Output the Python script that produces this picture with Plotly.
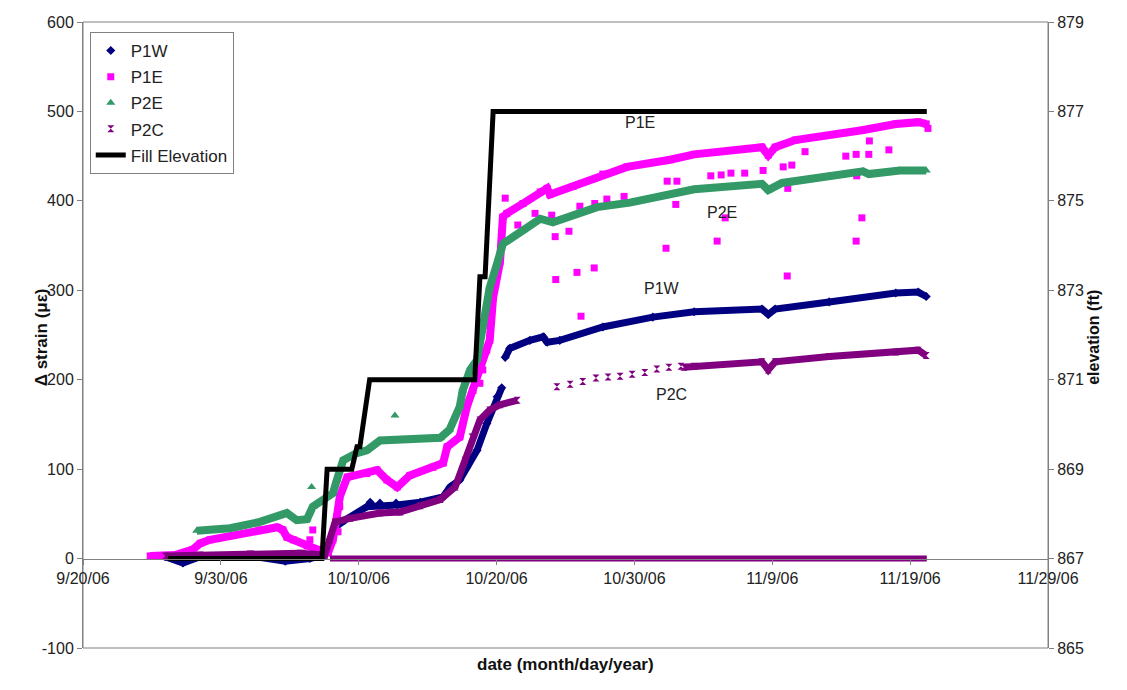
import plotly.graph_objects as go

# ---------------- data ----------------
x_tick_dates = ["2006-09-20", "2006-09-30", "2006-10-10", "2006-10-20",
                "2006-10-30", "2006-11-09", "2006-11-19", "2006-11-29"]
x_tick_labels = ["9/20/06", "9/30/06", "10/10/06", "10/20/06",
                 "10/30/06", "11/9/06", "11/19/06", "11/29/06"]
strain_ticks = [-100, 0, 100, 200, 300, 400, 500, 600]
strain_tick_labels = ["-100", "0", "100", "200", "300", "400", "500", "600"]
elev_ticks = [865, 867, 869, 871, 873, 875, 877, 879]

# P1W gauge
p1w_dates = ["2006-09-25 23:00", "2006-09-27 06:00", "2006-09-28 12:00", "2006-10-02 03:00",
             "2006-10-04 16:00", "2006-10-06 11:00", "2006-10-07 13:00", "2006-10-07 22:00",
             "2006-10-08 07:00", "2006-10-09 00:00", "2006-10-10 14:00", "2006-10-12 19:00",
             "2006-10-14 11:00", "2006-10-16 03:00", "2006-10-16 15:00", "2006-10-17 08:00",
             "2006-10-17 20:00", "2006-10-18 14:00", "2006-10-19 07:00", "2006-10-20 01:00",
             "2006-10-20 09:00", None,
             "2006-10-20 15:00", "2006-10-20 23:00", "2006-10-22 10:00", "2006-10-23 09:00",
             "2006-10-23 16:00", "2006-10-24 14:00", "2006-10-27 17:00", "2006-10-31 08:00",
             "2006-11-03 08:00", "2006-11-08 06:00", "2006-11-08 17:00", "2006-11-09 05:00",
             "2006-11-13 03:00", "2006-11-17 23:00", "2006-11-19 14:00", "2006-11-20 04:00"]
p1w_vals = [2, -5, 2, 3,
            -3, 0, 4, 21,
            35, 43, 58, 60,
            63, 69, 80, 88,
            102, 121, 151, 181,
            191, None,
            225, 235, 244, 248,
            242, 244, 259, 270,
            276, 279, 273, 279,
            287, 297, 298, 293]
p1w_extra_dates = ["2006-10-10 20:00", "2006-10-11 13:00", "2006-10-12 17:00"]
p1w_extra_vals = [63, 62, 62]

# P1E gauge
p1e_dates = ["2006-09-24 21:00", "2006-09-26 16:00", "2006-09-27 23:00", "2006-09-28 12:00",
             "2006-09-29 05:00", "2006-09-30 21:00", "2006-10-02 20:00", "2006-10-04 02:00",
             "2006-10-04 12:00", "2006-10-04 19:00", "2006-10-05 06:00", "2006-10-06 06:00",
             "2006-10-07 01:00", "2006-10-07 19:00", "2006-10-08 03:00", "2006-10-08 10:00",
             "2006-10-08 15:00", "2006-10-09 04:00", "2006-10-10 14:00", "2006-10-11 08:00",
             "2006-10-12 01:00", "2006-10-12 19:00", "2006-10-13 17:00", "2006-10-15 09:00",
             "2006-10-16 03:00", "2006-10-16 10:00", "2006-10-17 08:00", "2006-10-17 20:00",
             "2006-10-18 07:00", "2006-10-18 19:00", "2006-10-19 07:00", "2006-10-19 12:00",
             "2006-10-19 18:00", "2006-10-20 01:00", "2006-10-20 06:00", "2006-10-20 11:00",
             "2006-10-20 18:00", "2006-10-21 22:00", "2006-10-23 04:00", "2006-10-23 16:00",
             "2006-10-23 21:00", "2006-10-25 13:00", "2006-10-27 17:00", "2006-10-29 11:00",
             "2006-11-01 14:00", "2006-11-03 08:00", "2006-11-08 06:00", "2006-11-08 17:00",
             "2006-11-09 05:00", "2006-11-10 16:00", "2006-11-15 12:00", "2006-11-17 23:00",
             "2006-11-19 14:00", "2006-11-20 04:00"]
p1e_vals = [3, 4, 10, 17,
            21, 26, 32, 35,
            32, 24, 21, 14,
            10, 7, 21, 47,
            69, 91, 95, 99,
            88, 80, 93, 102,
            107, 125, 136, 169,
            188, 214, 233, 244,
            292, 317, 332, 382,
            386, 397, 410, 414,
            407, 416, 430, 438,
            446, 452, 460, 451,
            460, 468, 479, 486,
            488, 486]
p1e_extra_dates = ["2006-10-06 16:00", "2006-10-06 11:00", "2006-10-08 12:00", "2006-10-08 15:00",
                   "2006-10-19 00:00", "2006-10-18 19:00", "2006-10-20 15:00", "2006-10-21 13:00",
                   "2006-10-22 19:00", "2006-10-24 00:00", "2006-10-24 06:00", "2006-10-25 06:00",
                   "2006-10-24 07:00", "2006-10-25 20:00", "2006-10-27 02:00", "2006-10-26 03:00",
                   "2006-10-26 01:00", "2006-10-27 03:00", "2006-10-28 00:00", "2006-10-29 06:00",
                   "2006-11-01 09:00", "2006-11-02 02:00", "2006-11-02 00:00", "2006-11-01 07:00",
                   "2006-11-04 13:00", "2006-11-05 07:00", "2006-11-06 00:00", "2006-11-07 00:00",
                   "2006-11-08 08:00", "2006-11-09 19:00", "2006-11-10 10:00", "2006-11-05 00:00",
                   "2006-11-05 14:00", "2006-11-10 02:00", "2006-11-10 03:00", "2006-11-11 09:00",
                   "2006-11-14 08:00", "2006-11-15 02:00", "2006-11-16 00:00", "2006-11-16 01:00",
                   "2006-11-17 11:00", "2006-11-15 03:00", "2006-11-15 12:00", "2006-11-15 02:00",
                   "2006-11-20 07:00"]
p1e_extra_vals = [32, 21, 30, 58,
                  211, 196, 403, 373,
                  386, 384, 360, 366,
                  312, 320, 325, 271,
                  394, 397, 402, 405,
                  422, 422, 396, 347,
                  428, 429, 431, 431,
                  434, 438, 440, 355,
                  381, 316, 414, 455,
                  450, 452, 452, 467,
                  457, 428, 381, 355,
                  481]

# P2E gauge
p2e_dates = ["2006-09-28 06:00", "2006-09-30 16:00", "2006-10-02 20:00", "2006-10-04 19:00",
             "2006-10-05 12:00", "2006-10-06 06:00", "2006-10-06 16:00", "2006-10-08 03:00",
             "2006-10-08 10:00", "2006-10-08 21:00", "2006-10-09 21:00", "2006-10-10 14:00",
             "2006-10-11 13:00", "2006-10-13 00:00", "2006-10-15 22:00", "2006-10-16 14:00",
             "2006-10-17 08:00", "2006-10-17 13:00", "2006-10-18 02:00", "2006-10-18 14:00",
             "2006-10-19 00:00", "2006-10-19 12:00", "2006-10-20 01:00", "2006-10-20 11:00",
             "2006-10-21 22:00", "2006-10-23 04:00", "2006-10-24 02:00", "2006-10-25 13:00",
             "2006-10-27 07:00", "2006-10-29 16:00", "2006-11-03 08:00", "2006-11-08 06:00",
             "2006-11-08 17:00", "2006-11-09 17:00", "2006-11-13 03:00", "2006-11-15 14:00",
             "2006-11-16 00:00", "2006-11-18 06:00", "2006-11-20 04:00"]
p2e_vals = [31, 34, 41, 51,
            43, 44, 58, 73,
            88, 110, 118, 121,
            132, 133, 135, 144,
            170, 188, 211, 222,
            259, 303, 330, 352,
            367, 380, 376, 384,
            393, 398, 413, 419,
            412, 420, 428, 433,
            430, 434, 434]
p2e_extra_dates = ["2006-10-06 14:00", "2006-10-12 15:00"]
p2e_extra_vals = [80, 160]

# P2C gauge
p2c_dates = ["2006-09-25 23:00", "2006-09-28 12:00", "2006-10-02 03:00", "2006-10-05 18:00",
             "2006-10-07 13:00", "2006-10-07 22:00", "2006-10-08 07:00", "2006-10-09 09:00",
             "2006-10-11 13:00", "2006-10-13 00:00", "2006-10-14 11:00", "2006-10-15 22:00",
             "2006-10-17 00:00", "2006-10-17 17:00", "2006-10-18 05:00", "2006-10-18 19:00",
             "2006-10-19 12:00", "2006-10-20 06:00", "2006-10-21 12:00", None,
             "2006-11-02 14:00", "2006-11-03 08:00", "2006-11-08 06:00", "2006-11-08 17:00",
             "2006-11-09 05:00", "2006-11-13 03:00", "2006-11-17 23:00", "2006-11-19 14:00",
             "2006-11-20 04:00"]
p2c_vals = [3, 4, 5, 6,
            4, 21, 41, 45,
            51, 52, 59, 66,
            80, 110, 136, 155,
            166, 172, 177, None,
            214, 215, 220, 211,
            220, 226, 231, 233,
            227]
p2c_extra_dates = ["2006-10-24 09:00", "2006-10-25 08:00", "2006-10-26 06:00", "2006-10-27 05:00",
                   "2006-10-28 02:00", "2006-10-28 23:00", "2006-10-29 20:00", "2006-10-30 18:00",
                   "2006-10-31 15:00", "2006-11-01 12:00", "2006-11-02 09:00"]
p2c_extra_vals = [192, 195, 198, 202,
                  203, 204, 206, 208,
                  212, 214, 215]
p2c_zero_dates = ["2006-10-07 22:00", "2006-11-20 05:00"]
p2c_zero_vals = [0, 0]

# Fill elevation (ft)
fill_dates = ["2006-09-26 04:00", "2006-10-07 08:00", "2006-10-07 17:00", "2006-10-09 12:00",
              "2006-10-09 21:00", "2006-10-10 02:00", "2006-10-10 19:00", "2006-10-18 10:00",
              "2006-10-18 19:00", "2006-10-19 04:00", "2006-10-19 18:00", "2006-11-20 05:00"]
fill_elev = [867, 867, 869, 869,
             869.5, 869.5, 871, 871,
             873.3, 873.3, 877, 877]

# ---------------- figure ----------------
FONT = "Liberation Sans, Arial, sans-serif"
AXIS_GREY = "#808080"
TEXT = "#222222"

fig = go.Figure()


def add_gauge(name, dates, vals, extra_dates, extra_vals, color, symbol, msize, band_w):
    # continuous band of readings, then the individual reading markers on top
    fig.add_trace(go.Scatter(
        x=dates, y=vals, mode="lines", connectgaps=False,
        line=dict(color=color, width=band_w),
        legendgroup=name, showlegend=False, hoverinfo="skip"))
    pts = [(d, v) for d, v in zip(dates + extra_dates, vals + extra_vals) if d is not None]
    fig.add_trace(go.Scatter(
        x=[p[0] for p in pts], y=[p[1] for p in pts], mode="markers",
        marker=dict(symbol=symbol, size=msize, color=color, line=dict(width=0)),
        name=name, legendgroup=name))


add_gauge("P1W", p1w_dates, p1w_vals, p1w_extra_dates, p1w_extra_vals,
          "#000080", "diamond", 7, 7)
add_gauge("P1E", p1e_dates, p1e_vals, p1e_extra_dates, p1e_extra_vals,
          "#FF00FF", "square", 7, 8)
add_gauge("P2E", p2e_dates, p2e_vals, p2e_extra_dates, p2e_extra_vals,
          "#339966", "triangle-up", 8, 8)
add_gauge("P2C", p2c_dates, p2c_vals, p2c_extra_dates, p2c_extra_vals,
          "#800080", "hourglass", 7, 7)
fig.add_trace(go.Scatter(
    x=p2c_zero_dates, y=p2c_zero_vals, mode="lines",
    line=dict(color="#800080", width=6),
    legendgroup="P2C", showlegend=False, hoverinfo="skip"))

fig.add_trace(go.Scatter(
    x=fill_dates, y=fill_elev, mode="lines", name="Fill Elevation",
    line=dict(color="black", width=5), yaxis="y2", legendgroup="fill"))

# series labels inside the plot
labels = [("P1E", "2006-10-30 10:00", 488), ("P2E", "2006-11-05 08:00", 387),
          ("P1W", "2006-11-01 00:00", 302), ("P2C", "2006-11-01 17:00", 184)]
annotations = [dict(x=d, y=v, xref="x", yref="y", text=t, showarrow=False,
                    font=dict(family=FONT, size=16, color=TEXT))
               for t, d, v in labels]

annotations += [
    dict(x=0.5, y=-0.045, xref="paper", yref="paper", text="<b>date (month/day/year)</b>",
         showarrow=False, font=dict(family=FONT, size=17, color="#111111")),
    dict(x=-0.055, y=0.497, xref="paper", yref="paper", text="<b>Δ strain (με)</b>",
         textangle=-90, showarrow=False, font=dict(family=FONT, size=17, color="#111111")),
    dict(x=1.0585, y=0.497, xref="paper", yref="paper", text="<b>elevation (ft)</b>",
         textangle=-90, showarrow=False, font=dict(family=FONT, size=16, color="#111111")),
]

fig.update_layout(
    width=1127, height=690,
    margin=dict(l=83, r=79, t=22, b=42),
    paper_bgcolor="white", plot_bgcolor="white",
    font=dict(family=FONT, size=16, color=TEXT),
    showlegend=True,
    legend=dict(x=0.007, y=0.984, xanchor="left", yanchor="top",
                bgcolor="white", bordercolor=AXIS_GREY, borderwidth=1,
                font=dict(family=FONT, size=17, color=TEXT),
                tracegroupgap=1, itemwidth=30),
    xaxis=dict(type="date", range=["2006-09-20", "2006-11-29"],
               tickvals=x_tick_dates, ticktext=x_tick_labels,
               anchor="free", position=1 / 7,
               showline=True, linecolor=AXIS_GREY, linewidth=1,
               ticks="outside", ticklen=5, tickcolor=AXIS_GREY,
               showgrid=False, zeroline=False,
               tickfont=dict(family=FONT, size=16, color=TEXT)),
    yaxis=dict(range=[-100, 600], tickvals=strain_ticks, ticktext=strain_tick_labels,
               showline=True, linecolor=AXIS_GREY, linewidth=1,
               ticks="outside", ticklen=5, tickcolor=AXIS_GREY,
               showgrid=False, zeroline=False,
               tickfont=dict(family=FONT, size=16, color=TEXT)),
    yaxis2=dict(range=[865, 879], tickvals=elev_ticks, overlaying="y", side="right",
                showline=True, linecolor=AXIS_GREY, linewidth=1,
                ticks="outside", ticklen=5, tickcolor=AXIS_GREY,
                showgrid=False, zeroline=False,
                tickfont=dict(family=FONT, size=16, color=TEXT)),
    shapes=[dict(type="rect", xref="paper", yref="paper", x0=0, x1=1, y0=0, y1=1,
                 line=dict(color=AXIS_GREY, width=1), layer="below")],
    annotations=annotations,
)

fig.write_html("out.html")
